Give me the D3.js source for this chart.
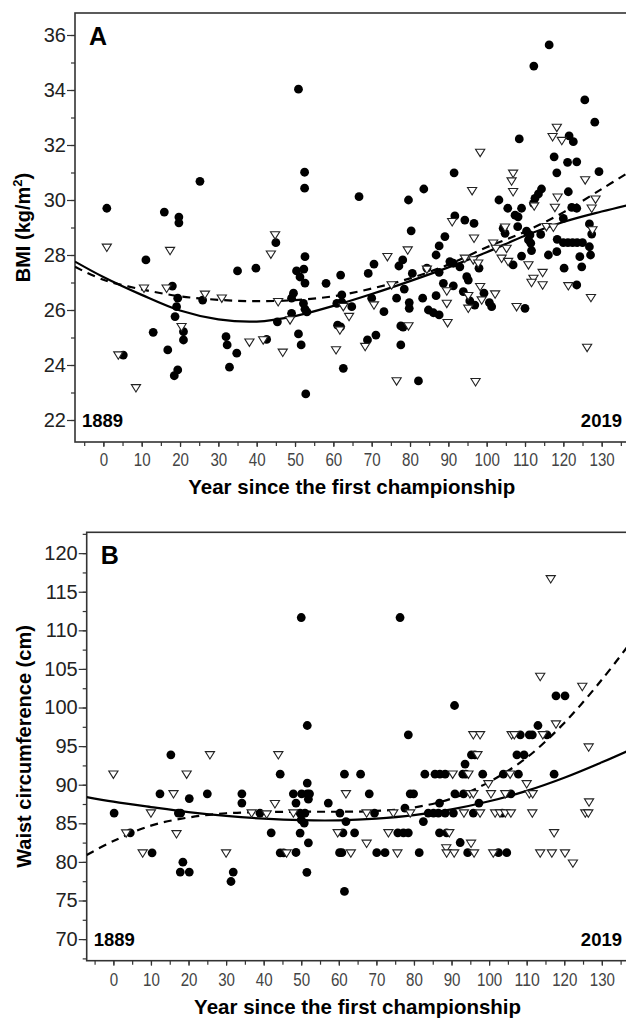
<!DOCTYPE html>
<html>
<head>
<meta charset="utf-8">
<script src="https://cdn.jsdelivr.net/npm/d3@7"></script>
<style>
  body { margin: 0; background: #fff; }
</style>
</head>
<body>
<svg id="fig" width="626" height="1018"></svg>
<script>
// ---- Data (year since first championship, value) ----
// Panel A: BMI
const bmiCircles = [
  [0.9,29.70],[15.9,29.56],[19.7,29.38],[19.7,29.17],[25.2,30.68],[50.9,34.03],[52.5,31.01],[52.5,30.43],[45.0,28.45],
  [116.3,35.64],[112.3,34.87],[125.6,33.64],[128.2,32.83],[108.5,32.22],[121.5,32.33],[122.6,32.12],[117.6,31.57],
  [121.1,31.37],[123.5,31.39],[91.5,30.99],[118.3,30.99],[129.3,31.03],[83.6,30.40],[66.7,30.12],[79.6,30.00],
  [103.2,30.00],[114.3,30.40],[113.5,30.22],[112.6,30.06],[112.2,29.88],[121.3,30.30],[105.5,29.70],[107.4,29.45],
  [108.2,29.39],[109.1,29.70],[122.2,29.73],[123.5,29.70],[120.0,29.33],[91.7,29.42],[94.3,29.27],[96.7,29.15],
  [80.3,28.88],[126.8,29.13],[127.4,28.76],[104.3,28.97],[104.8,28.79],[108.1,29.03],[110.4,28.87],[111.3,28.73],
  [110.9,28.55],[111.5,28.43],[114.1,28.75],[89.1,28.67],[87.6,28.33],[78.1,27.82],[118.4,28.57],[120.0,28.45],
  [121.2,28.45],[122.4,28.45],[123.6,28.45],[125.0,28.45],[126.8,28.30],[86.8,28.00],[90.4,27.76],[91.3,27.70],
  [93.0,27.57],[106.9,27.64],[109.1,27.96],[111.7,28.16],[116.1,28.00],[118.3,28.12],[124.3,27.94],[127.1,28.00],
  [124.8,27.57],[120.2,27.52],[123.5,26.91],[84.4,27.52],[80.6,27.33],[87.6,27.37],[94.8,27.21],[95.2,27.09],
  [98.0,27.52],[88.7,26.97],[91.3,26.88],[78.5,26.76],[93.9,26.67],[99.3,26.61],[95.6,26.33],[96.9,26.18],
  [100.7,26.27],[101.3,26.12],[86.8,26.52],[83.3,26.43],[79.8,26.27],[79.8,26.06],[84.8,26.00],[86.1,25.90],
  [87.6,25.82],[110.0,26.06],[52.6,27.94],[52.3,27.49],[51.3,27.20],[52.6,26.98],[77.1,27.60],[70.6,27.67],
  [69.1,27.33],[61.9,27.27],[58.1,26.97],[76.5,26.43],[70.0,26.43],[62.2,26.55],[60.9,26.24],[64.8,26.12],
  [52.2,26.24],[52.6,26.03],[73.2,25.94],[61.1,25.45],[61.9,25.39],[62.6,23.88],[52.8,22.95],[68.9,24.91],
  [71.1,25.09],[77.6,25.42],[78.2,25.38],[77.6,24.73],[82.2,23.42],[50.9,25.13],[51.6,24.73],[35.0,27.42],
  [39.8,27.52],[50.4,27.42],[49.6,26.61],[49.1,26.43],[49.1,25.88],[45.4,25.57],[53.1,25.93],[25.9,26.36],
  [18.0,26.87],[19.4,26.43],[19.1,26.12],[18.7,25.76],[11.1,27.82],[13.0,25.19],[20.9,25.21],[20.9,24.91],
  [16.8,24.55],[5.2,24.36],[19.4,23.82],[18.5,23.61],[32.0,25.03],[32.3,24.73],[34.8,24.43],[32.9,23.92],
  [42.6,24.93],[62.2,26.29]
];
const bmiTriangles = [
  [44.8,28.73],[0.9,28.28],[17.4,28.16],[118.3,32.64],[117.2,32.30],[119.6,32.16],[98.3,31.73],[106.9,30.97],
  [106.5,30.69],[106.9,30.30],[125.7,30.73],[96.2,30.34],[112.4,29.78],[118.5,30.10],[117.8,29.73],[128.4,30.03],
  [127.4,29.70],[91.0,29.21],[127.6,28.91],[104.8,29.01],[115.6,29.03],[117.4,29.01],[96.7,28.61],[79.4,28.18],
  [94.3,27.88],[96.5,27.82],[97.8,27.70],[101.7,28.43],[102.4,28.24],[105.2,28.24],[103.9,27.88],[105.6,27.76],
  [110.9,27.64],[114.6,27.36],[112.2,27.15],[111.7,27.00],[114.6,26.91],[121.3,26.88],[127.2,26.45],[89.6,26.69],
  [98.3,26.85],[102.2,26.58],[95.2,26.52],[98.7,26.36],[89.6,26.24],[95.2,26.06],[107.8,26.12],[74.1,27.94],
  [84.4,27.48],[75.2,26.91],[62.6,26.12],[70.6,26.18],[89.8,25.54],[126.2,24.64],[60.7,24.55],[61.7,25.27],
  [68.3,24.67],[79.6,25.42],[76.5,23.42],[97.1,23.39],[43.7,28.03],[10.6,26.79],[16.5,26.79],[26.5,26.57],
  [30.9,26.43],[45.6,26.30],[48.7,25.64],[20.4,25.39],[3.9,24.36],[8.5,23.17],[38.1,24.83],[41.7,24.91],
  [46.8,24.46],[64.1,25.76]
];
const bmiFitSolid = [
  [-7.4,27.76],[0,27.2],[10,26.55],[20,25.98],[30,25.66],[40,25.58],[50,25.78],[60,26.15],[70,26.58],
  [80,27.05],[90,27.55],[100,28.1],[110,28.7],[120,29.2],[130,29.58],[137,29.82]
];
const bmiFitDashed = [
  [-7.4,27.57],[0,27.1],[10,26.75],[20,26.5],[30,26.37],[40,26.32],[50,26.36],[60,26.5],[70,26.78],
  [80,27.15],[90,27.65],[100,28.28],[110,28.85],[120,29.55],[130,30.4],[137,31.0]
];

// Panel B: waist circumference
const waistCircles = [
  [15.3,93.87],[12.4,88.82],[20.2,88.2],[25.0,88.82],[34.2,88.82],[34.2,87.62],[44.4,91.37],[0.2,86.32],
  [17.3,86.32],[17.9,86.32],[39.0,86.32],[4.5,83.77],[42.0,83.77],[10.3,81.18],[44.4,81.18],[45.3,81.18],
  [18.5,79.97],[17.8,78.68],[20.2,78.68],[31.9,78.68],[31.3,77.46],
  [47.9,88.82],[48.6,87.62],[48.6,81.22],[49.7,83.73],[49.7,86.32],[50.0,85.45],[50.1,88.82],[50.8,85.03],
  [51.0,86.32],[51.6,90.21],[51.6,88.82],[52.2,88.82],[51.9,88.13],[51.9,82.47],[51.5,78.65],[50.0,111.66],
  [51.6,97.67],
  [76.3,111.66],[90.8,100.26],[78.5,96.46],[108.3,96.46],[110.7,96.46],[111.5,96.46],[115.4,96.46],[113.0,97.67],
  [117.8,101.52],[120.2,101.52],[95.3,93.87],[96.2,93.87],[107.4,93.87],[109.3,93.87],[93.6,92.67],
  [61.5,91.37],[65.8,91.37],[82.9,91.37],[85.6,91.37],[86.9,91.37],[88.3,91.37],[93.0,91.37],[93.8,91.37],
  [98.3,91.37],[103.8,91.37],[107.8,91.37],[117.3,91.37],
  [68.1,88.82],[79.0,88.82],[79.9,88.82],[90.9,88.82],[93.2,88.82],[105.8,88.82],
  [57.2,87.62],[86.8,87.62],[97.3,87.62],[77.6,86.97],
  [60.3,86.32],[69.5,86.32],[83.8,86.32],[85.2,86.32],[86.5,86.32],[88.3,86.32],[90.5,86.32],[95.8,86.32],
  [103.5,86.32],
  [61.9,85.23],[82.5,85.23],
  [61.1,83.77],[64.2,83.77],[75.7,83.77],[77.2,83.77],[78.5,83.77],[86.8,83.77],[88.7,83.77],
  [92.3,82.51],
  [60.2,81.2],[60.8,81.2],[70.1,81.2],[72.3,81.2],[81.4,81.2],[94.3,81.2],[102.5,81.2],[104.7,81.2],
  [61.5,76.17]
];
const waistTriangles = [
  [0.0,91.37],[19.5,91.37],[25.7,93.87],[43.9,93.87],[16.0,88.82],[43.0,87.53],[10.0,86.32],[36.8,86.32],
  [40.8,86.2],[3.4,83.73],[16.8,83.64],[7.8,81.14],[30.0,81.14],[46.1,81.14],[47.9,86.32],
  [116.4,116.67],[113.6,104.02],[124.8,102.72],[117.8,97.85],[95.8,96.46],[97.6,96.46],[106.0,96.46],
  [106.7,96.46],[114.3,96.46],[126.5,94.87],[96.9,93.87],
  [90.3,91.37],[94.5,91.37],[105.6,91.37],
  [99.8,90.12],[110.0,90.12],
  [61.9,88.82],[94.9,88.82],[95.8,88.82],[100.5,88.82],[104.3,88.82],[110.7,88.82],[111.6,88.82],
  [126.6,87.75],
  [67.4,86.32],[74.5,86.32],[79.0,86.32],[93.3,86.32],[97.6,86.32],[101.6,86.32],[102.9,86.32],[104.3,86.32],
  [105.8,86.32],[111.5,86.32],[125.6,86.32],[126.4,86.32],
  [59.7,83.77],[73.2,83.77],[89.4,83.77],[117.3,83.77],
  [67.4,82.4],[95.2,82.4],[88.6,81.8],
  [63.2,81.14],[75.6,81.14],[88.7,81.14],[90.7,81.14],[96.0,81.14],[101.1,81.14],[113.6,81.14],[116.7,81.14],
  [120.2,81.14],
  [122.3,79.84]
];
const waistFitSolid = [
  [-7.1,88.4],[0,87.8],[10,87.1],[20,86.45],[30,85.95],[40,85.6],[50,85.4],[60,85.38],[70,85.6],
  [80,86.05],[90,86.8],[100,87.85],[110,89.2],[120,90.9],[130,92.9],[137,94.4]
];
const waistFitDashed = [
  [-7.1,80.9],[0,82.7],[10,84.7],[20,85.75],[30,86.3],[40,86.45],[50,86.5],[60,86.5],[70,86.6],
  [80,87.05],[90,88.2],[100,90.35],[110,93.5],[120,98.0],[130,103.6],[137,108.0]
];

const xTicks = d3.range(0, 131, 10);
const xMinor = d3.range(-5, 136, 5);
const bmiTicks = [22, 24, 26, 28, 30, 32, 34, 36];
const bmiMinor = d3.range(22, 37, 1);
const waistTicks = [70, 75, 80, 85, 90, 95, 100, 105, 110, 115, 120];
const waistMinor = d3.range(67.5, 123, 2.5);

// ---- Drawing ----
const svg = d3.select("#fig");
const FONT = "'Liberation Sans', Arial, Helvetica, sans-serif";

function drawPanel(o) {
  const x = d3.scaleLinear().domain(o.xDomain).range([o.left, o.right]);
  const y = d3.scaleLinear().domain(o.yDomain).range([o.bottom, o.top]);

  svg.append("clipPath").attr("id", "clip" + o.letter)
    .append("rect")
    .attr("x", o.left).attr("y", o.top)
    .attr("width", o.right - o.left).attr("height", o.bottom - o.top);

  // frame
  svg.append("rect")
    .attr("x", o.left).attr("y", o.top)
    .attr("width", o.right - o.left).attr("height", o.bottom - o.top)
    .attr("fill", "none").attr("stroke", "#333").attr("stroke-width", 1.6);

  // y axis
  svg.append("g")
    .attr("transform", `translate(${o.left},0)`)
    .call(d3.axisLeft(y).tickValues(o.yMinor).tickSize(4).tickFormat(""))
    .call(a => a.select(".domain").remove())
    .call(a => a.selectAll("line").attr("stroke", "#333").attr("stroke-width", 1.2));
  svg.append("g")
    .attr("transform", `translate(${o.left},0)`)
    .call(d3.axisLeft(y).tickValues(o.yTicks).tickSize(8).tickPadding(1).tickFormat(d3.format("d")))
    .call(a => a.select(".domain").remove())
    .call(a => a.selectAll("line").attr("stroke", "#333").attr("stroke-width", 1.2))
    .call(a => a.selectAll("text")
      .attr("font-family", FONT).attr("font-size", 20).attr("fill", "#222"));

  // x axis
  svg.append("g")
    .attr("transform", `translate(0,${o.bottom})`)
    .call(d3.axisBottom(x).tickValues(xMinor).tickSize(4).tickFormat(""))
    .call(a => a.select(".domain").remove())
    .call(a => a.selectAll("line").attr("stroke", "#333").attr("stroke-width", 1.2));
  svg.append("g")
    .attr("transform", `translate(0,${o.bottom})`)
    .call(d3.axisBottom(x).tickValues(xTicks).tickSize(5).tickPadding(o.xPad).tickFormat(d3.format("d")))
    .call(a => a.select(".domain").remove())
    .call(a => a.selectAll("line").attr("stroke", "#333").attr("stroke-width", 1.2))
    .call(a => a.selectAll("text")
      .attr("font-family", FONT).attr("font-size", 17.5).attr("fill", "#444")
      .attr("textLength", d => String(d).length * 8.4)
      .attr("lengthAdjust", "spacingAndGlyphs"));

  // fitted curves
  const line = d3.line()
    .x(d => x(d[0])).y(d => y(d[1]))
    .curve(d3.curveCatmullRom.alpha(0.5));
  const curves = svg.append("g").attr("clip-path", `url(#clip${o.letter})`);
  curves.append("path").datum(o.solid)
    .attr("d", line).attr("fill", "none").attr("stroke", "#000").attr("stroke-width", 2.2);
  curves.append("path").datum(o.dashed)
    .attr("d", line).attr("fill", "none").attr("stroke", "#000").attr("stroke-width", 2.2)
    .attr("stroke-dasharray", "8,6");

  // points
  svg.append("g").selectAll("circle")
    .data(o.circles).join("circle")
    .attr("cx", d => x(d[0])).attr("cy", d => y(d[1]))
    .attr("r", 4.4).attr("fill", "#000");
  svg.append("g").selectAll("path")
    .data(o.triangles).join("path")
    .attr("transform", d => `translate(${x(d[0])},${y(d[1])})`)
    .attr("d", "M-4.6,-3.2L4.6,-3.2L0,4.2Z")
    .attr("fill", "#fff").attr("stroke", "#222").attr("stroke-width", 1.1);

  // labels inside plot
  svg.append("text")
    .attr("x", o.left + 14).attr("y", o.top + 32)
    .attr("font-family", FONT).attr("font-weight", "bold").attr("font-size", 25)
    .text(o.letter);
  svg.append("text")
    .attr("x", o.left + 7).attr("y", o.startY)
    .attr("font-family", FONT).attr("font-weight", "bold").attr("font-size", 18.5)
    .text("1889");
  svg.append("text")
    .attr("x", 622).attr("y", o.startY).attr("text-anchor", "end")
    .attr("font-family", FONT).attr("font-weight", "bold").attr("font-size", 18.5)
    .text("2019");

  // axis titles
  svg.append("text")
    .attr("x", (o.left + o.right) / 2).attr("y", o.xTitleY)
    .attr("text-anchor", "middle")
    .attr("font-family", FONT).attr("font-weight", "bold").attr("font-size", 20.5)
    .text("Year since the first championship");

  const yt = svg.append("text")
    .attr("transform", `translate(${o.yTitleX},${(o.top + o.bottom) / 2}) rotate(-90)`)
    .attr("text-anchor", "middle")
    .attr("font-family", FONT).attr("font-weight", "bold").attr("font-size", 20);
  o.yTitle(yt);
}

drawPanel({
  letter: "A",
  left: 75, right: 628.5, top: 13, bottom: 442,
  xDomain: [-7.4, 137], yDomain: [21.2, 36.8],
  yTicks: bmiTicks, yMinor: bmiMinor, xPad: 7,
  circles: bmiCircles, triangles: bmiTriangles,
  solid: bmiFitSolid, dashed: bmiFitDashed,
  startY: 427, xTitleY: 494, yTitleX: 30,
  yTitle: t => {
    t.append("tspan").text("BMI (kg/m");
    t.append("tspan").attr("font-size", 13).attr("dy", -8).text("2");
    t.append("tspan").attr("dy", 8).text(")");
  }
});

drawPanel({
  letter: "B",
  left: 86.7, right: 628.5, top: 532.3, bottom: 960.7,
  xDomain: [-7.1, 137.1], yDomain: [67.2, 122.7],
  yTicks: waistTicks, yMinor: waistMinor, xPad: 8,
  circles: waistCircles, triangles: waistTriangles,
  solid: waistFitSolid, dashed: waistFitDashed,
  startY: 946, xTitleY: 1014, yTitleX: 31,
  yTitle: t => t.text("Waist circumference (cm)")
});
</script>
</body>
</html>
